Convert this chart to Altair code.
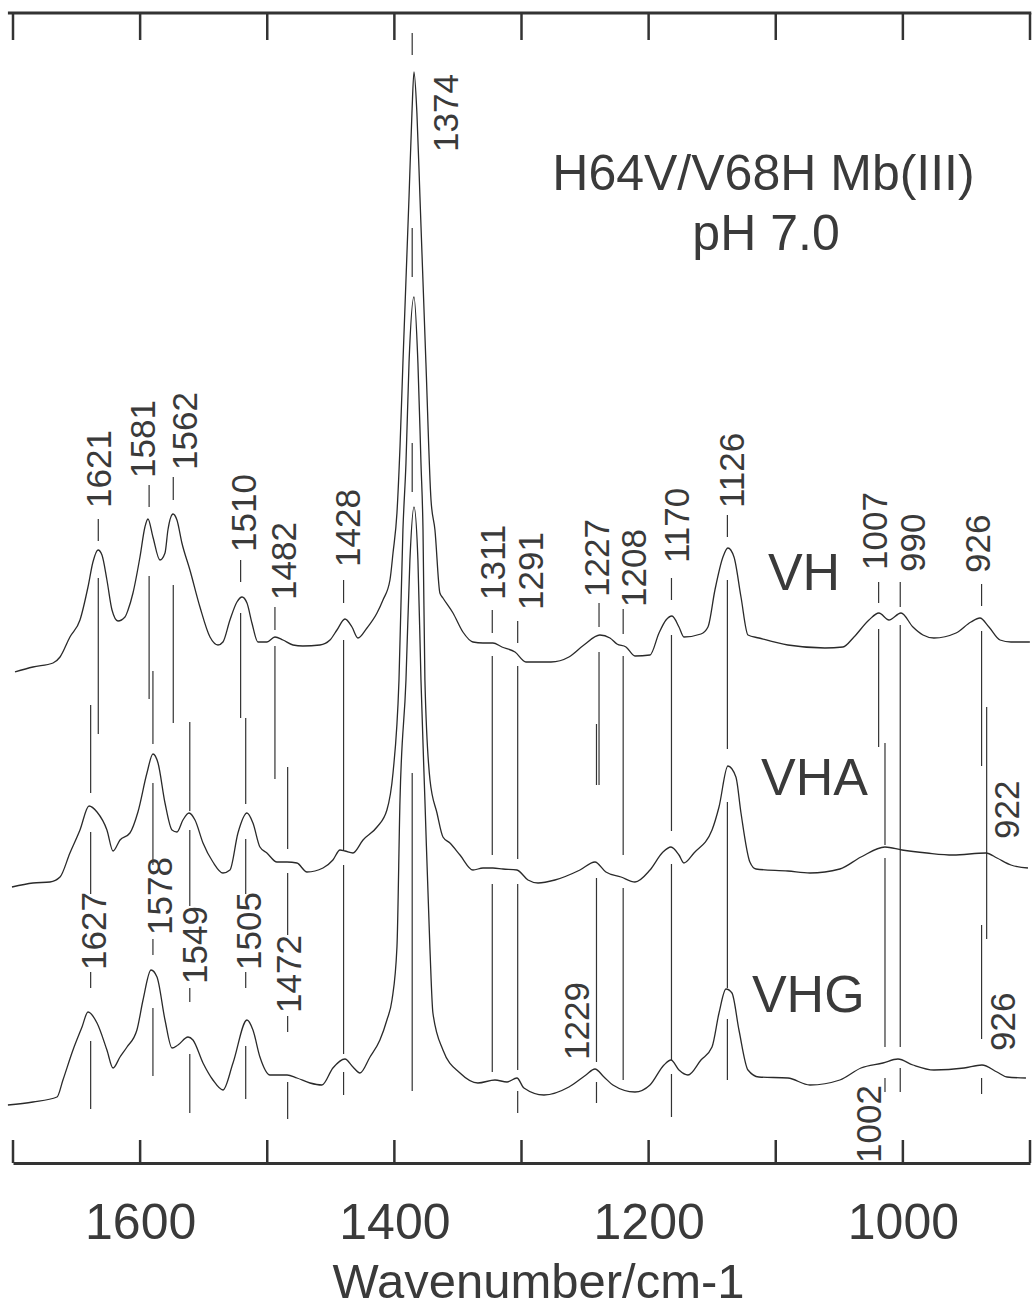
import altair as alt
import pandas as pd

# ---------------- data ----------------
# wavenumber (cm-1), relative intensity (arbitrary offset units)
vh = [(1686.5,49.1),(1672.4,49.6),(1656.6,50.0),(1651.1,50.6),(1643.3,52.6),(1635.4,54.3),(1629.1,57.6),
      (1625.2,60.1),(1621.2,61.3),(1618.1,60.8),(1614.2,58.3),(1610.2,55.3),(1605.5,54.2),(1600.0,54.6),
      (1597.6,55.3),(1593.7,57.0),(1588.2,60.6),(1584.3,63.6),(1581.9,64.4),(1578.0,62.6),(1572.5,60.3),
      (1568.5,61.0),(1566.2,63.3),(1562.2,64.9),(1559.1,64.3),(1555.2,62.0),(1548.9,59.3),(1541.0,55.6),
      (1533.1,52.6),(1526.8,51.8),(1522.9,52.1),(1517.4,54.3),(1511.9,56.1),(1507.9,56.6),(1504.0,56.0),
      (1500.1,54.0),(1495.4,52.1),(1488.3,52.1),(1482.0,52.6),(1475.7,52.3),(1467.8,51.8),(1460.0,51.7),
      (1446.6,51.8),(1438.7,52.3),(1433.2,53.3),(1426.9,54.4),(1421.4,53.6),(1416.7,52.5),(1409.6,53.5),
      (1401.7,55.0),(1397.0,56.3),(1391.5,58.3),(1389.1,61.0),(1386.0,65.0),(1383.6,71.6),(1381.3,80.0),
      (1376.5,96.6),(1374.2,105.0),(1372.6,109.1),(1370.3,105.0),(1367.9,96.6),(1363.2,80.0),(1359.2,66.3),
      (1356.1,63.3),(1352.2,57.0),(1349.8,56.5),(1341.9,55.0),(1334.1,53.1),(1326.2,52.1),(1318.3,52.0),
      (1310.5,52.0),(1303.4,51.6),(1293.1,51.1),(1284.5,50.1),(1264.8,50.1),(1250.7,50.6),(1238.9,51.8),
      (1226.3,52.8),(1218.4,52.5),(1212.9,51.9),(1205.8,51.6),(1198.7,50.7),(1186.9,50.8),(1179.8,53.0),
      (1174.3,54.3),(1169.6,54.7),(1164.1,53.6),(1160.2,52.6),(1146.8,52.9),(1141.3,53.6),(1135.8,57.3),
      (1129.5,60.6),(1125.6,61.5),(1120.8,60.6),(1115.3,56.6),(1109.8,52.8),(1101.2,52.5),(1078.4,51.8),
      (1049.3,51.5),(1035.1,51.6),(1026.4,52.6),(1014.6,54.3),(1006.8,55.0),(998.9,54.3),(989.4,55.0),
      (980.0,53.6),(972.1,52.8),(963.5,52.5),(946.1,53.0),(934.4,54.1),(927.3,54.5),(920.2,53.6),
      (911.5,52.3),(902.9,52.1),(888.0,52.1)]

vha = [(1688.9,27.6),(1672.4,28.0),(1659.0,28.1),(1651.1,28.6),(1643.3,31.0),(1635.4,33.3),(1628.3,35.7),
       (1622.0,35.1),(1614.2,33.3),(1609.4,31.2),(1603.9,32.3),(1596.1,33.0),(1589.8,35.1),(1582.7,39.0),
       (1578.0,40.9),(1574.0,40.0),(1568.5,36.0),(1563.0,33.3),(1559.1,33.1),(1554.4,34.3),(1549.6,35.0),
       (1544.9,34.3),(1538.6,32.0),(1530.8,30.1),(1522.9,29.0),(1517.4,29.3),(1511.1,33.0),(1504.0,35.0),
       (1499.3,34.0),(1493.8,31.6),(1488.3,31.0),(1480.4,30.1),(1472.5,30.1),(1464.7,30.0),(1456.8,29.1),
       (1444.2,29.5),(1436.4,30.3),(1430.8,31.3),(1426.9,31.2),(1420.6,31.0),(1412.7,32.3),(1401.7,33.6),
       (1393.9,35.3),(1389.1,39.0),(1384.4,48.3),(1381.3,63.3),(1378.9,70.0),(1376.5,80.0),(1372.6,86.6),
       (1369.5,80.0),(1367.1,70.0),(1365.5,63.3),(1364.0,48.3),(1360.0,38.3),(1354.5,35.0),(1349.8,32.6),
       (1344.3,32.0),(1336.4,30.8),(1326.2,29.3),(1318.3,29.5),(1310.5,29.5),(1302.6,29.4),(1291.6,29.3),
       (1282.9,28.3),(1275.0,28.0),(1261.7,28.3),(1242.0,29.3),(1230.2,30.1),(1221.6,29.1),(1209.7,28.6),
       (1198.7,28.1),(1186.9,29.3),(1176.7,31.1),(1170.4,31.6),(1164.1,30.8),(1160.2,30.0),(1152.3,31.0),
       (1138.1,33.3),(1132.6,35.6),(1125.6,39.7),(1119.3,38.6),(1115.3,35.0),(1108.3,30.1),(1103.5,29.4),
       (1078.4,29.2),(1061.1,29.0),(1037.5,29.4),(1020.9,30.6),(1002.0,31.6),(988.6,31.3),(969.0,31.0),
       (948.5,30.8),(922.6,31.0),(913.9,30.5),(902.9,29.8),(889.5,29.5)]

vhg = [(1692.1,5.8),(1672.4,6.1),(1653.5,6.6),(1648.8,8.3),(1640.9,11.3),(1633.8,13.6),(1629.1,15.1),
       (1622.0,14.0),(1614.2,11.3),(1609.4,9.5),(1603.9,10.6),(1598.4,11.6),(1590.6,13.3),(1585.8,16.3),
       (1579.5,19.3),(1574.8,18.6),(1568.5,14.3),(1563.0,11.5),(1558.3,11.8),(1550.4,12.6),(1546.5,12.3),
       (1538.6,10.0),(1530.8,8.3),(1522.9,7.3),(1515.0,10.0),(1504.0,14.3),(1499.3,13.3),(1493.8,10.6),
       (1485.9,8.8),(1472.5,8.8),(1464.7,8.5),(1454.4,8.0),(1445.0,7.8),(1436.4,9.5),(1426.9,10.4),
       (1420.6,9.6),(1415.1,9.0),(1407.2,10.6),(1399.4,12.3),(1393.9,14.3),(1389.9,16.3),(1386.0,21.6),
       (1383.6,36.3),(1378.9,48.3),(1375.8,60.3),(1372.6,65.6),(1369.5,60.3),(1367.1,48.3),(1364.0,36.3),
       (1360.0,21.3),(1357.7,15.0),(1349.8,11.3),(1336.4,9.0),(1322.3,8.0),(1308.9,8.3),(1299.4,8.1),
       (1291.6,8.5),(1286.1,7.5),(1270.3,6.8),(1250.7,7.6),(1237.3,8.8),(1230.2,9.4),(1223.1,8.6),
       (1216.1,7.8),(1198.7,7.1),(1186.9,7.8),(1175.9,9.8),(1170.4,10.3),(1164.1,9.3),(1157.0,8.8),
       (1146.8,10.3),(1138.1,11.6),(1132.6,15.0),(1127.1,17.4),(1122.4,17.0),(1116.9,13.3),(1109.8,9.3),
       (1101.2,8.6),(1078.4,8.5),(1061.1,7.8),(1037.5,8.3),(1020.9,9.5),(1003.6,10.0),(991.8,10.4),
       (980.0,9.8),(963.5,9.3),(939.8,9.5),(925.7,9.8),(913.9,9.1),(906.0,8.6),(891.1,8.5)]

# marker lines: wavenumber, top, bottom
markers = [(1621,64.4,62.2),(1621,58.5,42.9),
           (1581,67.8,65.6),(1581,58.7,46.4),
           (1562,68.6,66.3),(1562,57.8,44.0),
           (1509,60.3,58.1),(1509,55.0,44.5),
           (1482,55.6,53.3),(1482,51.7,38.4),
           (1428,58.3,56.0),(1428,52.3,31.2),(1428,29.8,10.9),(1428,9.1,6.8),
           (1374,113.0,110.8),(1374,93.5,88.6),(1374,72.0,67.1),(1374,39.0,7.2),
           (1311,55.3,53.0),(1311,50.7,30.8),(1311,27.9,9.1),
           (1291,54.2,52.0),(1291,49.7,30.4),(1291,27.9,9.3),(1291,7.2,5.0),
           (1227,56.0,53.6),(1227,51.1,37.8),
           (1229,43.9,37.8),(1229,28.5,10.1),(1229,8.1,6.0),
           (1208,55.4,52.9),(1208,50.7,30.8),(1208,27.5,8.3),
           (1170,58.5,56.3),(1170,52.8,33.2),(1170,29.9,10.3),(1170,8.9,4.6),
           (1126,64.8,62.6),(1126,58.3,41.4),(1126,36.1,17.5),(1126,14.4,8.3),
           (1007,58.1,56.0),(1007,53.4,41.6),
           (1002,42.0,31.8),(1002,30.5,11.6),(1002,8.5,7.1),
           (990,58.1,55.6),(990,53.8,11.6),(990,9.5,7.1),
           (926,57.9,55.7),(926,53.2,39.7),
           (922,45.6,22.4),
           (926,23.8,12.4),(926,8.5,6.9),
           (1627,45.8,37.0),(1627,33.1,26.9),(1627,19.1,17.5),(1627,12.2,5.4),
           (1578,49.2,41.9),(1578,38.0,29.8),(1578,22.4,20.8),(1578,15.5,8.7),
           (1549,44.1,35.2),(1549,33.3,25.7),(1549,17.5,16.1),(1549,10.9,5.0),
           (1505,44.5,35.9),(1505,32.4,26.9),(1505,19.1,17.5),(1505,11.7,6.4),
           (1472,39.6,31.4),(1472,29.0,22.8),(1472,14.7,13.1),(1472,8.1,4.4)]

# peak labels: text, wavenumber of text centre, intensity at text start
peak_labels = [("1621",1619.7,65.5),("1581",1584.7,68.5),("1562",1551.6,69.3),("1510",1505.6,61.1),
               ("1482",1473.7,56.3),("1428",1423.4,59.6),("1374",1346.3,101.1),("1311",1310.0,56.3),
               ("1291",1279.8,55.3),("1227",1227.8,56.6),("1208",1198.7,55.6),("1170",1164.9,60.0),
               ("1126",1121.2,65.5),("1007",1009.1,59.3),("990",979.2,59.1),("926",928.1,59.0),
               ("1627",1623.6,19.3),("1578",1571.3,22.8),("1549",1544.5,17.9),("1505",1501.6,19.3),
               ("1472",1469.8,15.0),("1229",1243.6,10.3),("922",905.6,32.4),("926",908.0,11.2),
               ("1002",1013.8,0.0)]

sample_names = [("VH",1094.1,57.3),("VHA",1099.6,36.8),("VHG",1106.7,15.1)]
title_lines = [("H64V/V68H Mb(III)",1097.6,97.3),("pH 7.0",1095.6,91.3)]

tick_values = [1700,1600,1500,1400,1300,1200,1100,1000,900]
label_values = [1600,1400,1200,1000]

# ---------------- chart ----------------
W, H = 1017, 1150
YTOP = 115
INK = "#2a2a2a"
TXT = "#3a3a3a"
REG = "Liberation Sans, Arial, sans-serif"

xs_data = alt.Scale(domain=[887.9, 1688.1], reverse=True, nice=False, zero=False)
xs_axis = alt.Scale(domain=[900, 1700], reverse=True, nice=False, zero=False)
ys = alt.Scale(domain=[0, YTOP], nice=False, zero=False)

rows = []
for name, pts in (("VH", vh), ("VHA", vha), ("VHG", vhg)):
    for w, i in pts:
        rows.append({"series": name, "w": w, "i": i})
spec_df = pd.DataFrame(rows)

spectra = alt.Chart(spec_df).mark_line(color=INK, strokeWidth=1.3, interpolate="monotone", clip=False).encode(
    x=alt.X("w:Q", scale=xs_data, axis=None),
    y=alt.Y("i:Q", scale=ys, axis=None),
    detail="series:N",
    order="w:Q",
)

mk_df = pd.DataFrame(markers, columns=["w", "top", "bot"])
marker_rules = alt.Chart(mk_df).mark_rule(color="#333333", strokeWidth=1.2).encode(
    x=alt.X("w:Q", scale=xs_data, axis=None),
    y=alt.Y("top:Q", scale=ys, axis=None),
    y2="bot:Q",
)

pl_df = pd.DataFrame(peak_labels, columns=["text", "w", "i"])
peak_text = alt.Chart(pl_df).mark_text(angle=270, align="left", baseline="middle",
                                       font=REG, fontSize=35, color=TXT).encode(
    x=alt.X("w:Q", scale=xs_data, axis=None),
    y=alt.Y("i:Q", scale=ys, axis=None),
    text="text:N",
)

sn_df = pd.DataFrame(sample_names, columns=["text", "w", "i"])
sample_text = alt.Chart(sn_df).mark_text(align="left", baseline="alphabetic",
                                         font=REG, fontSize=52, color=TXT).encode(
    x=alt.X("w:Q", scale=xs_data, axis=None),
    y=alt.Y("i:Q", scale=ys, axis=None),
    text="text:N",
)

tl_df = pd.DataFrame(title_lines, columns=["text", "w", "i"])
title_text = alt.Chart(tl_df).mark_text(align="center", baseline="alphabetic",
                                        font=REG, fontSize=50, color=TXT).encode(
    x=alt.X("w:Q", scale=xs_data, axis=None),
    y=alt.Y("i:Q", scale=ys, axis=None),
    text="text:N",
)

# frame: top line, inward ticks top and bottom, bottom axis with labels
tick_rows = []
for t in tick_values:
    tick_rows.append({"w": t, "a": YTOP, "b": YTOP - 2.7})
    tick_rows.append({"w": t, "a": 0, "b": 2.3})
tick_df = pd.DataFrame(tick_rows)

ticks = alt.Chart(tick_df).mark_rule(color="#333333", strokeWidth=2.5).encode(
    x=alt.X("w:Q", scale=xs_axis,
            axis=alt.Axis(values=label_values, orient="bottom", grid=False, ticks=False, tickSize=0,
                          domain=True, domainWidth=3, domainColor="#333333",
                          labelFont=REG, labelFontSize=50, labelColor=TXT, labelPadding=75,
                          labelBaseline="alphabetic", labelFlush=False, format="d",
                          title="Wavenumber/cm-1", titleFont=REG, titleFontSize=49,
                          titleFontWeight="normal", titleColor=TXT, titleX=525, titleY=134,
                          titleBaseline="alphabetic", titleAlign="center")),
    y=alt.Y("a:Q", scale=ys, axis=None),
    y2="b:Q",
)

top_df = pd.DataFrame([{"w1": 1704, "w2": 899, "i": YTOP}])
top_line = alt.Chart(top_df).mark_rule(color="#333333", strokeWidth=3).encode(
    x=alt.X("w1:Q", scale=xs_axis, axis=None),
    x2="w2:Q",
    y=alt.Y("i:Q", scale=ys, axis=None),
)

chart = alt.layer(
    ticks, top_line, marker_rules, spectra, peak_text, sample_text, title_text
).resolve_scale(x="independent").properties(
    width=W, height=H,
    autosize=alt.AutoSizeParams(type="none"),
    padding={"left": 13, "top": 13, "right": 2, "bottom": 147},
    background="white",
).configure_view(stroke=None)

chart.save("out.html", embed_options={"renderer": "svg", "actions": False})
